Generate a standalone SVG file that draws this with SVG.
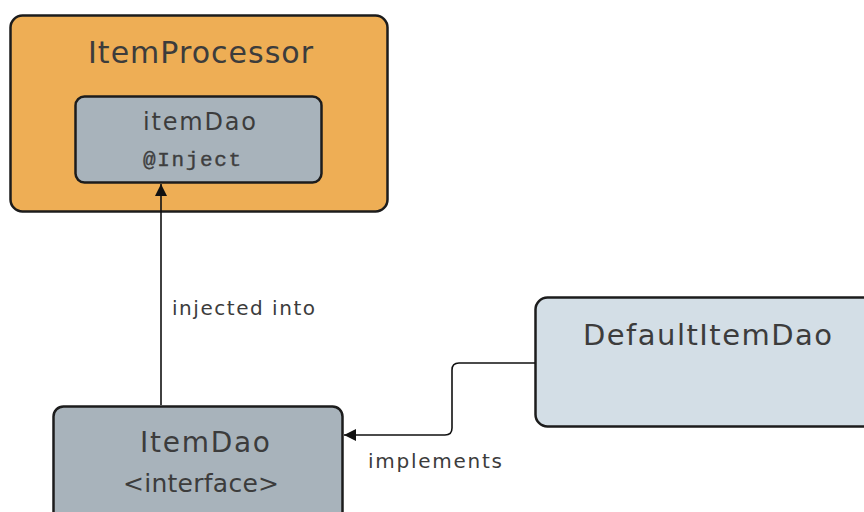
<svg xmlns="http://www.w3.org/2000/svg" width="864" height="512" viewBox="0 0 864 512">
  <style>
    .box { stroke: #1c1c1c; stroke-width: 2.5; }
    .orange { fill: #EEAE55; }
    .slate { fill: #A8B3BB; }
    .pale { fill: #D3DEE6; }
    .t { font-family: "DejaVu Sans", "Liberation Sans", sans-serif; fill: #3c3c3c; }
    .mono { font-family: "Liberation Mono", "DejaVu Sans Mono", monospace; fill: #3e3e3e; }
    .edge { fill: none; stroke: #111; stroke-width: 1.6; }
  </style>
  <defs>
    <marker id="arrow" viewBox="0 0 12 12" refX="12" refY="6" markerWidth="12" markerHeight="12" markerUnits="userSpaceOnUse" orient="auto">
      <path d="M0,0 L12,6 L0,12 z" fill="#111"/>
    </marker>
  </defs>
  <rect width="864" height="512" fill="#ffffff"/>

  <g id="item-processor">
    <rect class="box orange" x="10.5" y="15.5" width="377" height="196" rx="12"/>
    <text class="t" x="88" y="63" font-size="30" textLength="225" lengthAdjust="spacing">ItemProcessor</text>
    <g id="item-dao-field">
      <rect class="box slate" x="75.5" y="96.5" width="246" height="86" rx="9"/>
      <text class="t" x="143" y="130" font-size="24" textLength="113" lengthAdjust="spacing">itemDao</text>
      <text class="mono" x="143" y="166" font-size="21" stroke="#3e3e3e" stroke-width="0.4" textLength="98" lengthAdjust="spacing">@Inject</text>
    </g>
  </g>

  <g id="item-dao">
    <rect class="box slate" x="53.5" y="406.5" width="289" height="120" rx="10"/>
    <text class="t" x="140" y="452" font-size="28" textLength="130" lengthAdjust="spacing">ItemDao</text>
    <text class="t" x="123" y="492" font-size="25" textLength="156" lengthAdjust="spacing">&lt;interface&gt;</text>
  </g>

  <g id="default-item-dao">
    <rect class="box pale" x="535.5" y="297.5" width="345" height="129" rx="12"/>
    <text class="t" x="583" y="345" font-size="29" textLength="249" lengthAdjust="spacing">DefaultItemDao</text>
  </g>

  <g id="connectors">
    <path class="edge" d="M161,405 L161,184" marker-end="url(#arrow)"/>
    <text class="t" x="172" y="315" font-size="20" textLength="143" lengthAdjust="spacing">injected into</text>
    <path class="edge" d="M535,363 L459,363 Q452,363 452,370 L452,428 Q452,435 445,435 L344,435" marker-end="url(#arrow)"/>
    <text class="t" x="368" y="468" font-size="20" textLength="134" lengthAdjust="spacing">implements</text>
  </g>
</svg>
